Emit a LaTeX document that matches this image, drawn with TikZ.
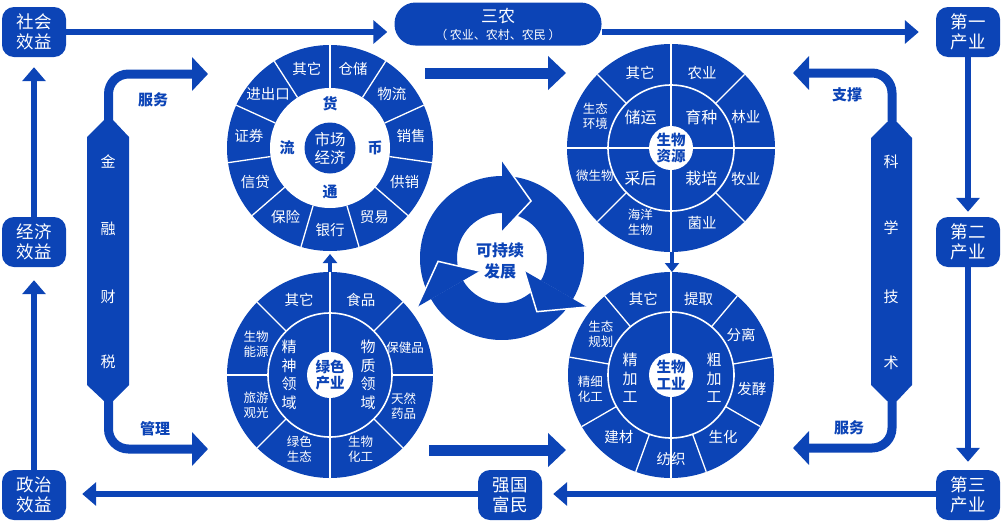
\documentclass[tikz,border=0pt]{standalone}
\usepackage{fontspec}
\setmainfont{Noto Sans CJK SC}
\usetikzlibrary{arrows.meta,calc}
\definecolor{bl}{RGB}{12,68,182}
\begin{document}
\begin{tikzpicture}[x=1pt,y=-1pt,
 box/.style={fill=bl, rounded corners=12pt, minimum width=64pt, minimum height=50pt, text=white, font=\fontsize{17.5}{20}\selectfont, align=center, inner sep=0pt},
 lbl/.style={text=white, font=\fontsize{14.5}{16}\selectfont, align=center, inner sep=0pt},
 slbl/.style={text=white, font=\fontsize{12.5}{15}\selectfont, align=center, inner sep=0pt},
 ilbl/.style={text=white, font=\fontsize{16}{18}\selectfont, align=center, inner sep=0pt},
 vlbl/.style={text=white, font=\fontsize{15}{18.5}\selectfont, align=center, inner sep=0pt},
 btxt/.style={text=bl, font=\bfseries\fontsize{15}{17}\selectfont, align=center, inner sep=0pt},
 sep/.style={draw=white, line width=1.3pt},
 thinarrow/.style={draw=bl, line width=6.5pt, -{Triangle[length=14pt,width=23pt]}},
 thickarrow/.style={draw=bl, line width=9pt, rounded corners=20pt, -{Triangle[length=16pt,width=33pt]}},
 fatarrow/.style={draw=bl, line width=11pt, -{Triangle[length=18pt,width=33pt]}},
 smallarrow/.style={draw=bl, line width=4pt, -{Triangle[length=9pt,width=14pt]}}
]
\useasboundingbox (0,0) rectangle (1002,520);

% ---- corner boxes ----
\node[box] (she) at (34,32) {社会\\效益};
\node[box] (jing) at (34,242) {经济\\效益};
\node[box] (zheng) at (34,495) {政治\\效益};
\node[box] (di1) at (968,32) {第一\\产业};
\node[box] (di2) at (968,242) {第二\\产业};
\node[box] (di3) at (968,495) {第三\\产业};
\node[box] (qiang) at (510,495) {强国\\富民};
\node[fill=bl, rounded corners=21pt, minimum width=207pt, minimum height=43pt, text=white, align=center, inner sep=0pt, font=\fontsize{17}{19}\selectfont] (sannong) at (498,24) {三农\\[-2pt]{\fontsize{12}{13}\selectfont（ 农业、农村、农民 ）}};

% ---- outer loop arrows ----
\draw[thinarrow] (she.east) -- ($(she.east -| sannong.west)+(-7,0)$);
\draw[thinarrow] (she.east -| sannong.east) -- ($(di1.west)+(-17,0)$);
\draw[thinarrow] (di1.south) -- ($(di2.north)+(0,-5)$);
\draw[thinarrow] (di2.south) -- ($(di3.north)+(0,-8)$);
\draw[thinarrow] ($(di3.west)+(0,-1)$) -- ($(qiang.east)+(11,-1)$);
\draw[thinarrow] ($(qiang.west)+(0,-1)$) -- ($(zheng.east)+(16,-1)$);
\draw[thinarrow] (zheng.north) -- ($(jing.south)+(0,13)$);
\draw[thinarrow] (jing.north) -- ($(she.south)+(0,10)$);

% ---- left bar ----
\fill[bl] (87,137) -- (104,120) -- (113,120) -- (129,137) -- (129,385) -- (113,401) -- (104,401) -- (87,385) -- cycle;
\coordinate (lbt) at (108.5,121);
\coordinate (lbb) at (108.5,400);
\coordinate (lat) at (208,74);
\coordinate (lab) at (208,449);
\draw[thickarrow] (lbt) -- (lbt |- lat) -- (lat);
\draw[thickarrow] (lbb) -- (lbb |- lab) -- (lab);
\node[vlbl] (j1) at (108,162) {金};
\node[vlbl] (j2) at (108,229) {融};
\node[vlbl] (j3) at (108,297) {财};
\node[vlbl] (j4) at (108,362) {税};
\node[btxt] (fw1) at (153,100) {服务};
\node[btxt] (gl) at (155,429) {管理};

% ---- right bar ----
\fill[bl] (871,138) -- (887,122) -- (897,122) -- (912,138) -- (912,385) -- (897,401) -- (887,401) -- (871,385) -- cycle;
\coordinate (rbt) at (892,123);
\coordinate (rbb) at (892,400);
\coordinate (rat) at (793,73);
\coordinate (rab) at (793,448);
\draw[thickarrow] (rbt) -- (rbt |- rat) -- (rat);
\draw[thickarrow] (rbb) -- (rbb |- rab) -- (rab);
\node[vlbl] (k1) at (891,162) {科};
\node[vlbl] (k2) at (891,228) {学};
\node[vlbl] (k3) at (891,297) {技};
\node[vlbl] (k4) at (891,363) {术};
\node[btxt] (zc) at (847,95) {支撑};
\node[btxt] (fw2) at (849,428) {服务};

% ---- fat arrows between circles ----
\coordinate (fa1) at (425,73);
\coordinate (fa2) at (566,73);
\coordinate (fb1) at (429,450);
\coordinate (fb2) at (566,450);
\draw[fatarrow] (fa1) -- (fa2);
\draw[fatarrow] (fb1) -- (fb2);

% ---- small arrows between circles ----
\coordinate (sa1) at (330,276);
\coordinate (sa2) at (330,254);
\coordinate (sb1) at (672,248);
\coordinate (sb2) at (672,272);
\draw[smallarrow] (sa1) -- (sa2);
\draw[smallarrow] (sb1) -- (sb2);

% ---- circle 1: market economy ----
\begin{scope}[shift={(330,148)}, y=1pt]
\fill[bl] (0,0) circle (103);
\fill[white] (0,0) circle (60);
\foreach \i in {0,...,10} \draw[sep] ({90-\i*360/11}:60) -- ({90-\i*360/11}:103);
\foreach \t [count=\i from 0] in {仓储,物流,销售,供销,贸易,银行,保险,信贷,证券,进出口,其它}
  \node[lbl] (ca\i) at ({90-(\i+0.5)*360/11}:82) {\t};
\node[circle, fill=bl, minimum size=51pt, inner sep=0pt, text=white, align=center, font=\fontsize{15.5}{18}\selectfont] (c1) at (0,0) {市场\\经济};
\node[btxt] (h1) at (90:44) {货};
\node[btxt] (h2) at (0:45) {币};
\node[btxt] (h3) at (-90:44) {通};
\node[btxt] (h4) at (180:43) {流};
\end{scope}

% ---- circle 2: bio resources ----
\begin{scope}[shift={(671,148)}, y=1pt]
\fill[bl] (0,0) circle (104);
\draw[sep, line width=1.6pt] (0,0) circle (63);
\foreach \a in {0,90,180,270} \draw[sep] (\a:22) -- (\a:104);
\foreach \a in {45,135,225,315} \draw[sep] (\a:63) -- (\a:104);
\fill[white] (0,0) circle (22);
\node[lbl] (cb1) at (112.5:81) {其它};
\node[lbl] (cb2) at (67.5:81) {农业};
\node[lbl] (cb3) at (22.5:81) {林业};
\node[lbl] (cb4) at (-22.5:81) {牧业};
\node[lbl] (cb5) at (-67.5:81) {菌业};
\node[slbl] (cb6) at (-112.5:80) {海洋\\生物};
\node[slbl] (cb7) at (-160:81) {微生物};
\node[slbl] (cb8) at (157.5:82) {生态\\环境};
\node[ilbl] (cbi1) at (135:43) {储运};
\node[ilbl] (cbi2) at (45:43) {育种};
\node[ilbl] (cbi3) at (-135:43) {采后};
\node[ilbl] (cbi4) at (-45:43) {栽培};
\node[btxt, font=\bfseries\fontsize{14.5}{16.5}\selectfont] (c2) at (0,0) {生物\\资源};
\end{scope}

% ---- circle 3: green industry ----
\begin{scope}[shift={(330,375)}, y=1pt]
\fill[bl] (0,0) circle (103);
\draw[sep, line width=1.6pt] (0,0) circle (62);
\foreach \a in {90,270} \draw[sep] (\a:22) -- (\a:103);
\foreach \a in {0,45,135,180,225,315} \draw[sep] (\a:62) -- (\a:103);
\fill[white] (0,0) circle (23);
\node[lbl] (cc1) at (112.5:81) {其它};
\node[lbl] (cc2) at (67.5:81) {食品};
\node[slbl] (cc3) at (20:80) {保健品};
\node[slbl] (cc4) at (-23:80) {天然\\药品};
\node[slbl] (cc5) at (-67.5:80) {生物\\化工};
\node[slbl] (cc6) at (-112.5:80) {绿色\\生态};
\node[slbl] (cc7) at (-157.5:80) {旅游\\观光};
\node[slbl] (cc8) at (157.5:80) {生物\\能源};
\node[vlbl] (cci1) at (-41,0) {精\\神\\领\\域};
\node[vlbl] (cci2) at (38,0) {物\\质\\领\\域};
\node[btxt, font=\bfseries\fontsize{14.5}{16.5}\selectfont] (c3) at (0,0) {绿色\\产业};
\end{scope}

% ---- circle 4: bio industry ----
\begin{scope}[shift={(671,375)}, y=1pt]
\fill[bl] (0,0) circle (103);
\draw[sep, line width=1.6pt] (0,0) circle (63);
\foreach \a in {90,270} \draw[sep] (\a:22) -- (\a:103);
\foreach \a in {50,10,-30,-70,-110,-150,170,130} \draw[sep] (\a:63) -- (\a:103);
\fill[white] (0,0) circle (22);
\node[lbl] (cd1) at (70:81) {提取};
\node[lbl] (cd2) at (30:81) {分离};
\node[lbl] (cd3) at (-10:82) {发酵};
\node[lbl] (cd4) at (-50:81) {生化};
\node[lbl] (cd5) at (-90:84) {纺织};
\node[lbl] (cd6) at (-130:81) {建材};
\node[slbl] (cd7) at (190:82) {精细\\化工};
\node[slbl] (cd8) at (150:81) {生态\\规划};
\node[lbl] (cd9) at (110:81) {其它};
\node[vlbl] (cdi1) at (-41,-3) {精\\加\\工};
\node[vlbl] (cdi2) at (43,-3) {粗\\加\\工};
\node[btxt, font=\bfseries\fontsize{14.5}{16.5}\selectfont] (c4) at (0,0) {生物\\工业};
\end{scope}

% ---- recycle symbol ----
\begin{scope}[shift={(502,258)}, y=1pt]
\foreach \b in {90,-30,210}
  \fill[bl] ({\b+120}:82) arc[start angle={\b+120}, end angle=\b, radius=82] -- (\b:45) arc[start angle=\b, end angle={\b+120}, radius=45] -- cycle;
\foreach \b in {90,-30,210} {
  \fill[bl] (\b:98) -- ({\b-27}:64) -- (\b:26) -- cycle;
  \draw[white, line width=1.5pt, line join=miter] (\b:98) -- ({\b-27}:64) -- (\b:26);
}
\node[btxt, font=\bfseries\fontsize{16}{21}\selectfont] (sus) at (-2,-3) {可持续\\发展};
\end{scope}
\end{tikzpicture}
\end{document}
